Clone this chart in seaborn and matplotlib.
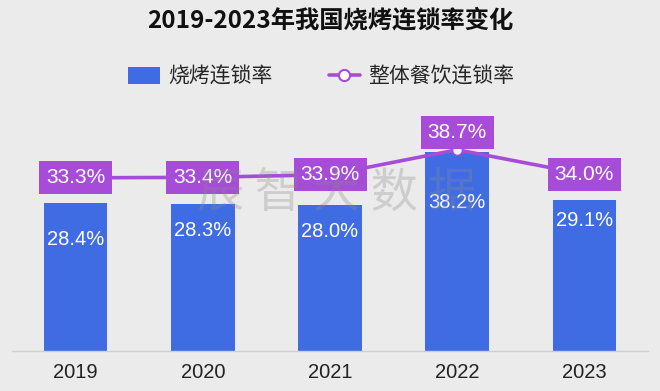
import numpy as np
import pandas as pd
import matplotlib
matplotlib.use("Agg")
import matplotlib.pyplot as plt
import seaborn as sns
from matplotlib.patches import Patch
from matplotlib.lines import Line2D

# ---- data ----
years = ["2019", "2020", "2021", "2022", "2023"]
bbq_rate = [28.4, 28.3, 28.0, 38.2, 29.1]
overall_rate = [33.3, 33.4, 33.9, 38.7, 34.0]
title_text = "2019-2023年我国烧烤连锁率变化"
legend_bar = "烧烤连锁率"
legend_line = "整体餐饮连锁率"
watermark = "辰 智 大 数 据"

# ---- style ----
BG = "#ebebeb"
BLUE = "#3f6ce3"
PURPLE = "#a74cd9"
CJK = ["Noto Sans CJK SC", "DejaVu Sans"]
NUM = ["Liberation Sans", "DejaVu Sans"]
bar_label_drop = [36, 27, 26, 50, 21]  # px below bar top

sns.set_theme(style="white")
plt.rcParams["font.family"] = CJK

df = pd.DataFrame({"year": years, "bbq": bbq_rate, "overall": overall_rate})

W, H = 660, 391
fig = plt.figure(figsize=(W / 100, H / 100), dpi=100, facecolor=BG)
ax = fig.add_axes([12 / W, (H - 351) / H, 636 / W, 251 / H])
ax.set_facecolor(BG)

sns.barplot(data=df, x="year", y="bbq", color=BLUE, width=0.5, ax=ax,
            saturation=1, linewidth=0, edgecolor="none", zorder=2)
pos = np.arange(len(years))
sns.lineplot(x=pos, y=df["overall"], ax=ax, color=PURPLE, linewidth=2.6,
             marker="o", markersize=7, markerfacecolor="#f4eefa",
             markeredgecolor=PURPLE, markeredgewidth=1, zorder=3)

ax.set_xlim(-0.5, len(years) - 0.5)
ax.set_ylim(0, 251 / 5.2)
ax.set_xlabel("")
ax.set_ylabel("")
ax.set_yticks([])
for s in ["top", "right", "left"]:
    ax.spines[s].set_visible(False)
ax.spines["bottom"].set_color("#cfcfcf")
ax.spines["bottom"].set_linewidth(1)
ax.tick_params(axis="x", length=0, pad=9, labelsize=14.5, labelcolor="#222222")
for t in ax.get_xticklabels():
    t.set_fontfamily(NUM)

# bar labels
for i, v in enumerate(bbq_rate):
    ax.annotate(f"{v:.1f}%", xy=(i, v), xytext=(0, -bar_label_drop[i] * 0.72),
                textcoords="offset points", ha="center", va="center",
                color="white", fontsize=14.5, family=NUM, zorder=5)

# line labels
imax = int(np.argmax(overall_rate))
for i, v in enumerate(overall_rate):
    dy = 12.5 if i == imax else 0
    ax.annotate(f"{v:.1f}%", xy=(i, v), xytext=(0, dy),
                textcoords="offset points", ha="center", va="center",
                color="white", fontsize=15, family=NUM, zorder=6,
                bbox=dict(boxstyle="square,pad=0.33", fc=PURPLE, ec="none"))

# watermark
fig.text(336 / W, 1 - 194 / H, watermark, ha="center", va="center",
         fontsize=34, color="#8a8a8a", alpha=0.3, family=CJK, zorder=10)

# title
fig.text(0.5, 1 - 20 / H, title_text, ha="center", va="center",
         fontsize=17.5, fontweight="bold", color="#111111", family=CJK)

handles = [
    Patch(facecolor=BLUE, edgecolor="none"),
    Line2D([0], [0], color=PURPLE, lw=2.6, marker="o", markersize=8,
           markerfacecolor="white", markeredgecolor=PURPLE, markeredgewidth=1.5),
]
fig.legend(handles, [legend_bar, legend_line], loc="center",
           bbox_to_anchor=(0.487, 1 - 77 / H), ncol=2, frameon=False,
           handlelength=1.5, handleheight=0.9,
           columnspacing=2.7, handletextpad=0.4, prop={"family": CJK, "size": 15})

fig.savefig("out.png", dpi=100, facecolor=BG)
